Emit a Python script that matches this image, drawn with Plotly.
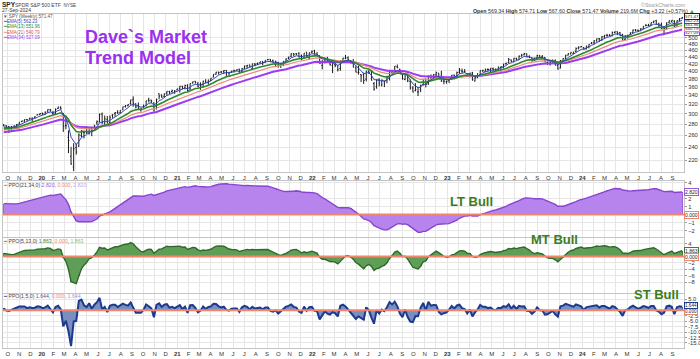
import numpy as np
import pandas as pd
import plotly.graph_objects as go

# ---------------- DATA (SPY weekly, raw prices) ----------------
# warm-up closes used only to seed the moving averages (2018-06-01 .. 2019-09-13)
warmup_close = [273.6, 278.19, 277.13, 274.74, 271.28, 273.11, 279.59, 279.68, 281.42, 283.6,
                283.16, 285.06, 287.51, 290.31, 287.6, 290.88, 291.99, 290.72, 287.82, 275.95,
                276.25, 265.33, 271.89, 277.76, 273.73, 263.25, 275.65, 263.57, 260.47, 240.7,
                247.75,
                252.39, 258.98, 266.46, 265.78, 270.06, 270.47, 277.37, 279.14, 280.42, 274.46,
                281.31, 279.25, 282.48, 288.57, 290.72, 290.02, 293.41, 294.03, 288.1, 285.84,
                282.78, 275.27, 287.65, 289.26, 294.0, 293.0, 298.46, 300.65, 297.17, 302.01,
                292.62, 291.62, 288.85, 284.85, 292.45, 298.05, 301.09]
warmup_last_week = "2019-09-13"
first_week = "2019-09-20"

close = [
    # 2019
    298.28, 295.4, 294.35, 296.28, 297.97, 301.6, 306.14, 308.94, 311.79, 310.96, 314.31, 314.87, 317.32, 320.73, 322.86,
    # 2020
    322.41, 325.71, 331.95, 328.77, 321.73, 332.2, 337.6, 333.48, 296.26, 297.46, 269.32, 228.8, 253.42,
    248.19, 278.2, 286.64, 282.97, 282.79, 292.44, 286.28, 295.44, 304.32, 319.34, 304.21, 308.64, 300.05,
    312.23, 317.59, 321.72, 320.88, 326.52, 334.57, 336.84, 339.48, 350.58, 342.57, 334.06, 330.65, 328.73,
    333.84, 346.85, 347.29, 345.78, 326.54, 350.16, 358.1, 355.33, 363.67, 369.85, 366.3, 369.18, 369.0,
    # 2021
    373.88, 381.26, 375.7, 382.88, 370.07, 387.71, 392.64, 390.03, 380.36, 383.63, 394.06, 389.48, 395.98,
    400.61, 411.49, 417.26, 416.74, 417.3, 422.12, 416.58, 414.94, 420.04, 422.6, 424.31, 414.92, 426.61,
    433.72, 435.52, 431.34, 439.94, 438.51, 442.49, 445.92, 443.36, 450.25, 453.08, 445.44, 441.4, 443.91,
    434.24, 437.86, 445.87, 453.12, 459.25, 468.53, 467.27, 468.89, 458.97, 453.42, 470.74, 459.87, 470.6, 474.96,
    # 2022
    466.09, 464.72, 437.98, 441.95, 448.7, 440.46, 434.23, 437.75, 432.17, 420.07, 444.52, 452.69,
    452.92, 447.57, 437.79, 426.04, 412.0, 411.34, 401.72, 389.63, 415.26, 410.54, 389.8, 365.86, 390.08,
    381.24, 388.67, 385.13, 395.09, 411.99, 413.47, 427.1, 422.14, 405.31, 392.24, 406.6, 385.56, 367.95, 357.18,
    362.79, 357.63, 374.29, 389.02, 376.35, 398.51, 396.03, 402.33, 406.91, 393.28, 383.27, 382.91, 382.43,
    # 2023
    388.08, 398.5, 395.88, 405.68, 412.35, 408.04, 407.26, 396.38, 404.19, 385.91, 389.99, 395.75, 409.39,
    409.19, 412.46, 412.2, 415.93, 412.63, 411.59, 418.62, 420.02, 427.92, 429.9, 439.46, 433.21, 443.28,
    438.55, 449.28, 452.18, 456.92, 446.81, 445.65, 436.5, 439.97, 451.19, 445.52, 443.37, 430.42, 427.48,
    429.54, 431.5, 421.19, 410.68, 434.69, 440.61, 450.79, 455.3, 459.1, 460.2, 469.33, 473.65, 475.31,
    # 2024
    467.92, 476.68, 482.43, 487.41, 494.35, 501.2, 499.51, 507.85, 512.85, 511.72, 509.83, 521.21, 523.07,
    518.43, 510.87, 495.16, 508.26, 511.29, 520.84, 529.45, 529.44, 527.37, 534.01, 542.78, 544.51, 544.22,
    554.64, 559.99, 548.99, 544.44, 532.9, 533.27, 554.31, 562.13, 563.68, 540.36, 562.01, 568.25, 571.47]

open_ = [
    299.8, 299.0, 297.7, 293.3, 296.0, 299.4, 302.0, 307.8, 308.4, 311.9, 312.3, 314.6, 314.4, 319.9, 320.5,
    323.5, 320.5, 326.4, 331.4, 323.0, 323.2, 334.0, 336.5, 323.1, 298.2, 275.3, 241.2, 224.4,
    255.7, 257.8, 277.1, 282.6, 285.1, 280.7, 291.0, 292.5, 301.9, 303.6, 320.2, 298.0, 307.2,
    301.4, 316.4, 320.1, 322.4, 321.6, 327.9, 335.1, 337.9, 342.1, 350.4, 341.1, 336.4, 326.0,
    333.1, 336.1, 348.7, 348.7, 342.1, 330.2, 364.0, 360.9, 357.3, 365.6, 369.1, 367.7, 365.0,
    371.7, 375.3, 380.6, 376.4, 383.7, 373.7, 389.3, 394.0, 387.1, 385.6, 385.7, 393.0, 390.0,
    395.3, 403.5, 411.5, 417.4, 417.4, 419.4, 422.5, 415.4, 417.3, 422.6, 422.6, 424.4, 417.1,
    427.2, 433.8, 436.0, 426.2, 439.3, 440.3, 442.1, 445.6, 445.2, 452.1, 453.3, 448.6, 436.0,
    442.8, 433.0, 437.2, 444.8, 455.5, 461.3, 469.7, 469.3, 470.9, 462.3, 456.1, 472.6, 454.5, 472.1,
    476.3, 462.7, 459.7, 432.0, 441.2, 449.5, 439.9, 431.9, 435.0, 432.0, 421.9, 444.3,
    452.1, 453.1, 444.1, 436.8, 423.7, 411.1, 405.1, 405.1, 392.8, 413.6, 414.8, 379.9, 371.9,
    391.1, 376.9, 385.9, 388.4, 395.8, 409.1, 414.8, 424.8, 417.7, 403.2, 390.4, 408.8, 384.1, 367.1,
    361.1, 358.0, 364.0, 375.9, 390.1, 377.7, 395.7, 394.6, 401.4, 406.0, 395.0, 383.0, 381.5,
    384.4, 389.9, 398.5, 396.7, 406.5, 409.8, 408.7, 403.1, 399.9, 404.4, 381.8, 390.1, 398.0,
    408.9, 406.6, 412.4, 412.0, 415.5, 411.95, 411.1, 418.3, 420.2, 428.3, 430.4, 438.2, 432.6,
    442.9, 438.2, 449.1, 453.4, 456.3, 448.7, 444.0, 437.6, 442.2, 451.7, 446.9, 443.1, 429.2,
    426.6, 427.6, 433.8, 420.0, 413.6, 433.1, 439.2, 450.5, 454.6, 455.8, 460.6, 470.8, 474.0,
    472.2, 467.5, 475.3, 484.0, 487.6, 493.7, 501.2, 497.7, 508.0, 512.0, 510.5, 510.0, 521.1,
    523.8, 520.1, 514.4, 497.0, 508.6, 513.8, 521.1, 529.6, 529.3, 529.0, 532.9, 543.0, 544.3,
    545.6, 555.4, 562.0, 550.7, 548.0, 511.6, 534.2, 554.7, 559.5, 560.5, 546.4, 562.7, 569.34]

high = [
    302.6, 300.2, 298.5, 298.7, 300.0, 302.2, 306.2, 309.0, 311.8, 312.5, 315.5, 315.3, 318.7, 321.2, 323.8,
    324.9, 327.5, 332.0, 332.9, 328.6, 334.2, 337.7, 339.1, 324.0, 313.8, 288.5, 256.9, 263.3,
    262.5, 281.2, 287.3, 286.8, 294.9, 293.0, 294.0, 297.9, 306.8, 321.3, 323.4, 315.6, 314.5,
    315.7, 317.9, 323.0, 327.2, 326.6, 334.9, 338.3, 339.7, 350.7, 358.8, 342.6, 343.1, 331.0,
    338.3, 347.3, 354.0, 349.3, 342.9, 352.2, 364.4, 362.3, 364.2, 369.9, 371.1, 372.5, 371.2,
    374.7, 381.5, 382.0, 384.95, 385.9, 388.5, 392.9, 394.2, 392.2, 390.9, 395.0, 398.1, 396.4,
    400.7, 411.7, 417.9, 418.2, 420.7, 422.8, 422.7, 418.2, 421.3, 422.9, 424.6, 425.5, 427.1,
    434.1, 435.8, 437.9, 440.3, 441.8, 442.9, 446.0, 448.2, 450.6, 453.8, 454.05, 451.0, 448.1,
    444.05, 441.7, 446.3, 454.7, 459.6, 470.65, 470.2, 470.9, 473.5, 466.6, 470.9, 472.9, 470.9, 477.9,
    479.98, 473.2, 463.0, 448.0, 455.0, 457.9, 448.0, 438.7, 441.1, 432.8, 444.9, 452.98,
    462.1, 457.8, 445.7, 450.0, 429.6, 429.7, 406.4, 410.6, 415.4, 417.4, 416.6, 383.9, 390.1,
    393.2, 390.6, 386.9, 400.2, 413.0, 415.7, 427.2, 431.7, 419.96, 404.8, 407.5, 411.7, 389.3, 372.3,
    379.5, 370.3, 375.45, 389.5, 390.4, 399.35, 402.3, 402.9, 410.0, 406.1, 410.5, 389.0, 384.0,
    389.3, 399.1, 400.2, 408.2, 418.3, 416.5, 415.05, 404.2, 404.5, 407.45, 396.5, 402.5, 409.7,
    411.9, 415.1, 415.7, 416.0, 417.6, 415.6, 420.7, 420.8, 428.7, 431.99, 443.9, 439.1, 443.4,
    444.3, 451.4, 456.4, 459.4, 457.3, 451.7, 444.6, 445.2, 453.7, 452.2, 451.1, 445.4, 432.3,
    431.1, 438.1, 438.1, 425.0, 436.3, 440.9, 451.4, 456.4, 459.3, 461.0, 473.0, 475.9, 477.55,
    473.7, 478.6, 482.7, 490.1, 496.05, 501.6, 503.5, 510.1, 513.3, 518.2, 516.0, 524.1, 524.6,
    524.4, 522.8, 516.0, 510.5, 512.6, 521.4, 531.5, 533.1, 530.5, 536.2, 543.7, 550.1, 550.3,
    555.05, 562.3, 565.2, 554.4, 555.0, 534.9, 555.0, 563.2, 564.2, 563.9, 563.0, 570.4, 574.71]

low = [
    297.9, 293.8, 284.8, 286.7, 294.9, 297.0, 301.0, 306.1, 306.9, 309.0, 311.9, 307.1, 313.3, 318.9, 320.3,
    320.0, 320.4, 324.9, 326.9, 320.2, 321.9, 332.8, 332.6, 285.5, 290.5, 247.7, 228.0, 218.3,
    243.9, 257.0, 273.8, 271.7, 280.3, 279.1, 275.9, 290.2, 297.5, 303.6, 298.6, 296.7, 299.4,
    299.0, 310.7, 312.8, 319.2, 319.6, 327.7, 332.9, 335.2, 339.5, 334.9, 331.0, 328.0, 322.6,
    331.2, 334.0, 343.1, 340.9, 322.6, 327.2, 350.5, 354.0, 354.9, 359.2, 363.3, 364.6, 362.0,
    370.8, 364.8, 373.0, 372.6, 368.3, 371.7, 387.5, 387.7, 378.2, 372.0, 377.1, 387.2, 383.9,
    393.1, 403.4, 410.2, 410.6, 415.1, 411.7, 404.0, 405.3, 414.9, 416.3, 420.3, 414.7, 414.7,
    425.6, 426.6, 430.9, 421.97, 432.9, 436.1, 440.9, 436.1, 443.4, 450.3, 445.4, 441.0, 428.8,
    427.2, 426.4, 431.5, 443.3, 452.4, 458.2, 462.0, 465.2, 457.8, 448.9, 453.6, 458.06, 451.1, 469.9,
    464.65, 459.6, 437.95, 420.8, 437.9, 439.9, 431.8, 410.6, 427.2, 415.1, 415.8, 440.7,
    449.3, 443.5, 436.7, 425.4, 411.2, 405.0, 385.2, 380.5, 386.96, 407.0, 389.75, 362.2, 366.9,
    372.6, 372.6, 371.04, 380.7, 388.0, 406.8, 408.7, 421.5, 405.25, 390.0, 388.4, 382.1, 363.3, 357.04,
    359.2, 348.1, 357.3, 373.1, 368.8, 375.3, 390.2, 393.9, 393.6, 391.3, 381.0, 374.8, 376.4,
    377.8, 385.6, 387.3, 393.6, 402.2, 404.8, 405.2, 393.6, 392.3, 384.3, 380.65, 389.4, 393.7,
    405.7, 405.97, 408.2, 403.8, 403.7, 408.6, 408.9, 409.9, 416.2, 425.8, 429.3, 432.5, 431.2,
    437.1, 437.6, 448.5, 451.6, 446.3, 443.35, 433.0, 435.0, 441.0, 442.9, 442.7, 429.9, 422.3,
    420.2, 427.5, 421.1, 409.2, 412.2, 431.2, 438.0, 450.0, 453.3, 455.0, 457.9, 466.4, 473.3,
    466.4, 466.4, 469.8, 484.0, 481.2, 491.4, 490.2, 493.6, 504.1, 508.2, 508.1, 508.0, 517.8,
    511.8, 509.3, 493.9, 495.7, 499.9, 512.4, 519.7, 524.7, 522.6, 524.9, 532.6, 541.9, 542.0,
    542.0, 554.0, 548.4, 537.5, 531.3, 510.3, 530.9, 553.9, 557.3, 539.4, 539.4, 559.6, 567.6]

# quarterly dividends (ex-date, amount) - the chart is dividend adjusted
div_exdates = ["2018-06-15", "2018-09-21", "2018-12-21", "2019-03-15", "2019-06-21", "2019-09-20",
               "2019-12-20", "2020-03-20", "2020-06-19", "2020-09-18", "2020-12-18", "2021-03-19",
               "2021-06-18", "2021-09-17", "2021-12-17", "2022-03-18", "2022-06-17", "2022-09-16",
               "2022-12-16", "2023-03-17", "2023-06-16", "2023-09-15", "2023-12-15", "2024-03-15",
               "2024-06-21", "2024-09-20"]
div_amounts = [1.246, 1.323, 1.435, 1.233, 1.432, 1.384, 1.570, 1.406, 1.366, 1.339, 1.580, 1.278,
               1.376, 1.428, 1.633, 1.366, 1.577, 1.596, 1.781, 1.506, 1.638, 1.583, 1.906, 1.595,
               1.759, 1.746]

month_letters = ["J", "F", "M", "A", "M", "J", "J", "A", "S", "O", "N", "D"]
main_ticks = [220, 240, 260, 280, 300, 320, 340, 360, 380, 400, 420, 440, 460, 480, 500]
lt_ticks = [-2, -1, 1, 2, 4]
mt_ticks = [-8, -6, -4, -2, 4]
st_ticks = [-15, -12.5, -10, -7.5, -5, -2.5, 5]

# ---------------- derived series ----------------
n_vis = len(close)
dates = pd.date_range(first_week, periods=n_vis, freq="W-FRI")
wdates = pd.date_range(end=warmup_last_week, periods=len(warmup_close), freq="W-FRI")
all_dates = wdates.append(dates)
raw_all = np.array(warmup_close + close, dtype=float)

factor = np.ones(len(raw_all))
for d, a in zip(div_exdates, div_amounts):
    m = np.asarray(all_dates < pd.Timestamp(d))
    if m.any():
        ref = raw_all[m][-1]
        factor[m] *= (1 - a / ref)
adj_all = raw_all * factor
fv = factor[-n_vis:]
o_adj = np.array(open_) * fv
h_adj = np.array(high) * fv
l_adj = np.array(low) * fv
c_adj = np.array(close) * fv


def ema(vals, n):
    return pd.Series(vals).ewm(span=n, adjust=False).mean().to_numpy()


e = {n: ema(adj_all, n)[-n_vis:] for n in (5, 13, 21, 34)}
ppo_lt = (e[21] - e[34]) / e[34] * 100
ppo_mt = (e[5] - e[13]) / e[13] * 100
ppo_st = (c_adj - e[5]) / e[5] * 100

# ---------------- layout helpers ----------------
W, H = 700, 359
LM, RM = 3, 16
PW = W - LM - RM
FONT = "Liberation Sans, Arial, sans-serif"


def px_x(px):
    return (px - LM) / PW


def px_y(py):
    return 1 - py / H


GRID = "#e6e6e6"
BORDER = "#c4c4c4"
C5, C13, C21, C34 = "#3446b8", "#2c8a2c", "#f0867c", "#9b3cf2"

fig = go.Figure()

# main panel
fig.add_trace(go.Ohlc(x=dates, open=o_adj, high=h_adj, low=l_adj, close=c_adj,
                      increasing=dict(line=dict(color="#1a1a1a", width=1)),
                      decreasing=dict(line=dict(color="#1a1a1a", width=1)),
                      tickwidth=0.35, xaxis="x", yaxis="y", hoverinfo="skip"))
for n, col, w in ((34, C34, 2.0), (21, C21, 1.2), (13, C13, 1.6), (5, C5, 1.0)):
    fig.add_trace(go.Scatter(x=dates, y=e[n], mode="lines", line=dict(color=col, width=w),
                             xaxis="x", yaxis="y", hoverinfo="skip"))

# PPO panels
week_ms = 7 * 24 * 3600 * 1000
panels = [
    ("x2", "y2", ppo_lt, "rgba(183,131,236,1)", "#9a5ad8", "#8a45d0", 1.4),
    ("x3", "y3", ppo_mt, "rgba(96,158,88,1)", "#3f7d37", "#2e6a28", 1.4),
    ("x4", "y4", ppo_st, "rgba(122,143,192,1)", "#3f5aa4", "#1c3a8e", 2.0),
]
for xa, ya, vals, fillc, barc, linec, lw in panels:
    fig.add_trace(go.Scatter(x=dates, y=vals, mode="lines", line=dict(color=fillc, width=0),
                             fill="tozeroy", fillcolor=fillc, xaxis=xa, yaxis=ya, hoverinfo="skip"))
    fig.add_trace(go.Bar(x=dates, y=vals, width=week_ms * 0.3, marker=dict(color=barc, line=dict(width=0)),
                         xaxis=xa, yaxis=ya, hoverinfo="skip"))
    fig.add_trace(go.Scatter(x=dates, y=vals, mode="lines", line=dict(color=linec, width=lw),
                             xaxis=xa, yaxis=ya, hoverinfo="skip"))

# x axes
mstarts = pd.date_range("2019-10-01", "2024-09-01", freq="MS")
mtext = [("<b>%02d</b>" % (d.year % 100)) if d.month == 1 else month_letters[d.month - 1] for d in mstarts]
xr = ["2019-09-18", "2024-10-02"]
xcommon = dict(type="date", range=xr, tickmode="array", tickvals=list(mstarts), ticktext=mtext,
               showgrid=True, gridcolor=GRID, gridwidth=1, showline=True, linecolor=BORDER,
               linewidth=1, mirror=True, ticks="", zeroline=False, automargin=False,
               ticklabeloverflow="allow",
               tickfont=dict(size=6, color="#333", family=FONT), fixedrange=True)

ycommon = dict(side="right", showgrid=True, gridcolor=GRID, gridwidth=1, showline=True,
               linecolor=BORDER, linewidth=1, mirror=True, ticks="outside", ticklen=2,
               tickcolor="#999", zeroline=False, automargin=False, ticklabeloverflow="allow",
               tickfont=dict(size=5.8, color="#333", family=FONT), fixedrange=True)

dom_main = [px_y(172), px_y(14)]
dom_lt = [px_y(237), px_y(181)]
dom_mt = [px_y(293), px_y(238)]
dom_st = [px_y(348), px_y(294)]

layout = dict(
    width=W, height=H, margin=dict(l=LM, r=RM, t=0, b=0, pad=0),
    paper_bgcolor="white", plot_bgcolor="white", showlegend=False, bargap=0,
    font=dict(family=FONT),
    xaxis=dict(xcommon, anchor="y", showticklabels=True, rangeslider=dict(visible=False)),
    xaxis2=dict(xcommon, anchor="y2", matches="x", showticklabels=False),
    xaxis3=dict(xcommon, anchor="y3", matches="x", showticklabels=False),
    xaxis4=dict(xcommon, anchor="y4", matches="x", showticklabels=True),
    yaxis=dict(ycommon, domain=dom_main, type="log", anchor="x",
               range=[np.log10(203), np.log10(586)], tickvals=main_ticks,
               ticktext=[str(v) for v in main_ticks]),
    yaxis2=dict(ycommon, domain=dom_lt, anchor="x2", range=[-2.8, 4.2], tickvals=lt_ticks),
    yaxis3=dict(ycommon, domain=dom_mt, anchor="x3", range=[-11.4, 5.8], tickvals=mt_ticks),
    yaxis4=dict(ycommon, domain=dom_st, anchor="x4", range=[-17.3, 7.5], tickvals=st_ticks,
                ticktext=["%.1f" % v for v in st_ticks]),
)
fig.update_layout(**layout)

# zero lines
for xa, ya in (("x2", "y2"), ("x3", "y3"), ("x4", "y4")):
    fig.add_shape(type="line", xref=xa + " domain", yref=ya, x0=0, x1=1, y0=0, y1=0,
                  line=dict(color="#f2866c", width=2), layer="above")

anns = []


def ann(text, x, y, size=6, color="#333", xanchor="left", yanchor="middle", **kw):
    d = dict(text=text, x=px_x(x), y=px_y(y), xref="paper", yref="paper", showarrow=False,
             xanchor=xanchor, yanchor=yanchor, borderpad=0, borderwidth=0,
             font=dict(size=size, color=color, family=FONT))
    d.update(kw)
    anns.append(d)


# header
ann("<b>SPY</b>", 1.5, 4.3, size=6.5, color="#222")
ann("SPDR S&P 500 ETF  <span style='font-size:4.6px'>NYSE</span>", 15, 4.6, size=5.0, color="#444")
ann("27-Sep-2024", 1.5, 10.4, size=5.0, color="#333")
ann("©StockCharts.com", 686, 5.0, size=5.3, color="#999", xanchor="right")
ann("<b>Open</b> 569.34 <b>High</b> 574.71 <b>Low</b> 567.60 <b>Close</b> 571.47 "
    "<b>Volume</b> 219.6M <b>Chg</b> +3.22 (+0.57%) <span style='color:#2a9d2a'>▲</span>",
    694, 11.2, size=5.3, color="#333", xanchor="right")

# main legend
ann("▼ SPY (Weekly) 571.47", 3, 16.6, size=4.6, color="#555")
ann("<span style='color:%s'>━</span>EMA(5) 562.23" % C5, 3, 21.8, size=4.5, color=C5)
ann("<span style='color:%s'>━</span>EMA(13) 551.96" % C13, 3, 27.0, size=4.5, color=C13)
ann("<span style='color:%s'>━</span>EMA(21) 540.79" % C21, 3, 32.2, size=4.5, color="#d9534f")
ann("<span style='color:%s'>━</span>EMA(34) 527.09" % C34, 3, 37.4, size=4.5, color=C34)

# title
ann("<b>Dave`s Market</b>", 85, 36.5, size=18, color="#9b30f0")
ann("<b>Trend Model</b>", 85, 57.5, size=18, color="#9b30f0")

# panel legends
ann("<span style='color:#9a5ad8'>━</span> PPO(21,34,0) <span style='color:#9a5ad8'>2.820</span>, "
    "<span style='color:#f2866c'>0.000</span>, <span style='color:#c6a0ef'>2.820</span>",
    3, 184.5, size=5.2, color="#444")
ann("<span style='color:#3f7d37'>━</span> PPO(5,13,0) <span style='color:#3f7d37'>1.863</span>, "
    "<span style='color:#f2866c'>0.000</span>, <span style='color:#8cb886'>1.863</span>",
    3, 241, size=5.2, color="#444")
ann("<span style='color:#1c3a8e'>━</span> PPO(1,5,0) <span style='color:#3f5aa4'>1.644</span>, "
    "<span style='color:#f2866c'>0.000</span>, <span style='color:#8fa0cc'>1.644</span>",
    3, 296, size=5.2, color="#444")

# big green labels
GREEN = "#3b7d23"
ann("<b>LT Bull</b>", 471, 201.5, size=13, color=GREEN, xanchor="center")
ann("<b>MT Bull</b>", 554, 239, size=13, color=GREEN, xanchor="center")
ann("<b>ST Bull</b>", 656, 294, size=13, color=GREEN, xanchor="center")


# right-axis value boxes (pixel rows, stacked like the reference)
def box(text, py, col, size=4.5):
    anns.append(dict(text=text, x=px_x(684), y=px_y(py), xref="paper", yref="paper", showarrow=False,
                     xanchor="left", yanchor="middle", bgcolor="white", bordercolor=col,
                     borderwidth=1, borderpad=0,
                     font=dict(size=size, color="#222", family=FONT)))


box("527.09", 33.0, C34, 4.4)
box("540.79", 28.8, C21, 4.4)
box("551.96", 24.6, C13, 4.4)
box("562.23", 20.4, C5, 4.4)
box("571.47", 16.2, "#222", 4.4)
box("2.820", 192.3, "#9a5ad8", 5)
box("0.000", 214.6, "#f2866c", 5)
box("1.863", 250.5, "#3f7d37", 5)
box("0.000", 256.8, "#f2866c", 5)
box("0.000", 311.5, "#f2866c", 4.6)
box("1.644", 305.0, "#1c3a8e", 4.6)

fig.update_layout(annotations=anns)
fig.write_html("out.html", config={"displayModeBar": False},
               post_script="document.body.style.margin='0px';document.body.style.overflow='hidden';")
